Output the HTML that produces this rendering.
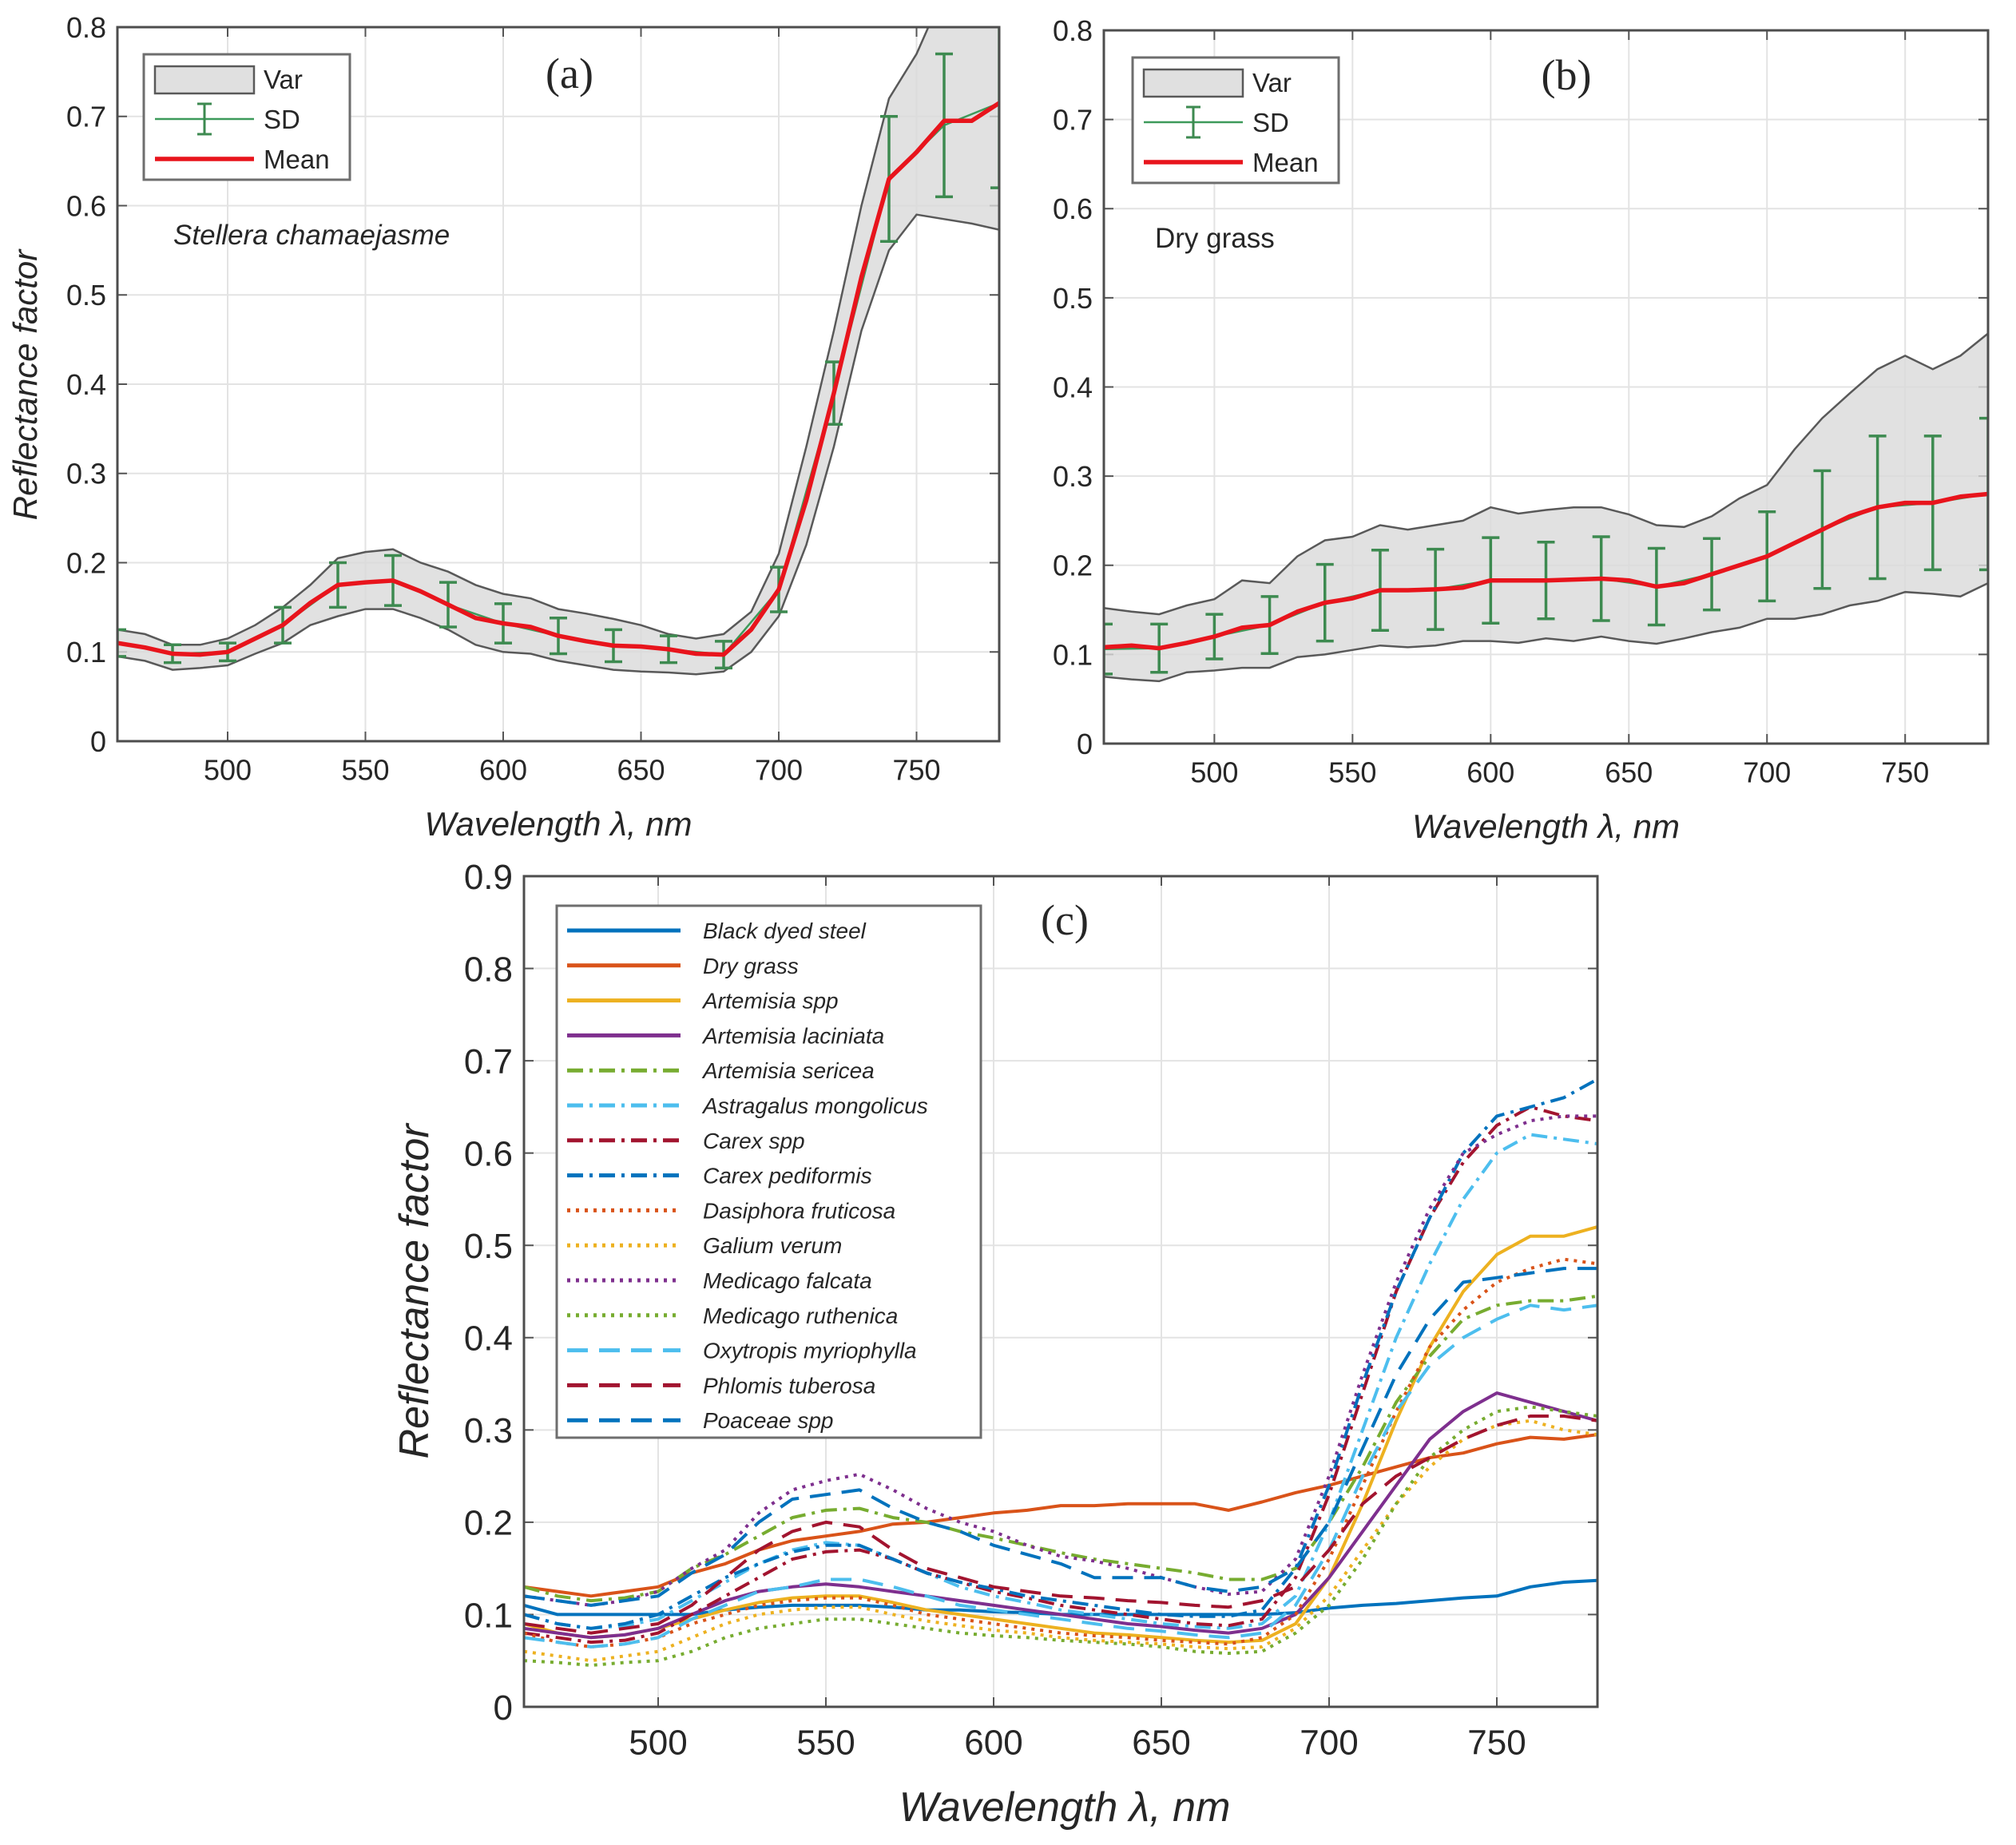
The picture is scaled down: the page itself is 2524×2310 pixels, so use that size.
<!DOCTYPE html>
<html><head><meta charset="utf-8">
<style>
html,body{margin:0;padding:0;background:#fff;}
svg{display:block;}
text{font-family:"Liberation Sans",sans-serif;}
text.serif{font-family:"Liberation Serif",serif;}
</style></head>
<body>
<svg id="fig" width="2524" height="2310" viewBox="0 0 2524 2310" xmlns="http://www.w3.org/2000/svg"></svg>
<script>
// ---------- DATA ----------
const wl = [460,470,480,490,500,510,520,530,540,550,560,570,580,590,600,610,620,630,640,650,660,670,680,690,700,710,720,730,740,750,760,770,780];
const sdWl = [460,480,500,520,540,560,580,600,620,640,660,680,700,720,740,760,780];
const xTicks = [500,550,600,650,700,750];
const yTicksAB = [0,0.1,0.2,0.3,0.4,0.5,0.6,0.7,0.8];
const yTickLabelsAB = ["0","0.1","0.2","0.3","0.4","0.5","0.6","0.7","0.8"];
const yTicksC = [0,0.1,0.2,0.3,0.4,0.5,0.6,0.7,0.8,0.9];
const yTickLabelsC = ["0","0.1","0.2","0.3","0.4","0.5","0.6","0.7","0.8","0.9"];

// Panel (a) Stellera chamaejasme
const aMean = [0.11,0.105,0.098,0.097,0.10,0.115,0.13,0.155,0.175,0.178,0.18,0.168,0.153,0.138,0.132,0.128,0.118,0.112,0.107,0.106,0.103,0.098,0.097,0.125,0.17,0.27,0.39,0.52,0.63,0.66,0.695,0.695,0.715];
const aUpper = [0.125,0.12,0.108,0.108,0.115,0.13,0.15,0.175,0.205,0.212,0.215,0.2,0.19,0.175,0.165,0.16,0.148,0.143,0.137,0.13,0.12,0.115,0.12,0.145,0.21,0.33,0.46,0.6,0.72,0.77,0.84,0.82,0.85];
const aLower = [0.095,0.09,0.08,0.082,0.085,0.098,0.11,0.13,0.14,0.148,0.148,0.138,0.125,0.108,0.1,0.098,0.09,0.085,0.08,0.078,0.077,0.075,0.078,0.1,0.14,0.22,0.33,0.46,0.55,0.59,0.585,0.58,0.573];
const aSdMean = [0.11,0.098,0.10,0.13,0.175,0.18,0.153,0.132,0.118,0.107,0.103,0.097,0.17,0.39,0.63,0.69,0.715];
const aSdHalf = [0.015,0.01,0.01,0.02,0.025,0.028,0.025,0.022,0.02,0.018,0.015,0.015,0.025,0.035,0.07,0.08,0.095];

// Panel (b) Dry grass
const bMean = [0.108,0.11,0.107,0.113,0.12,0.13,0.133,0.148,0.158,0.163,0.172,0.172,0.173,0.175,0.183,0.183,0.183,0.184,0.185,0.183,0.176,0.18,0.19,0.2,0.21,0.225,0.24,0.255,0.265,0.27,0.27,0.277,0.28];
const bUpper = [0.152,0.148,0.145,0.155,0.162,0.183,0.18,0.21,0.228,0.232,0.245,0.24,0.245,0.25,0.265,0.258,0.262,0.265,0.265,0.257,0.245,0.243,0.255,0.275,0.29,0.33,0.365,0.393,0.42,0.435,0.42,0.435,0.46];
const bLower = [0.075,0.072,0.07,0.08,0.082,0.085,0.085,0.097,0.1,0.105,0.11,0.108,0.11,0.115,0.115,0.113,0.118,0.115,0.12,0.115,0.112,0.118,0.125,0.13,0.14,0.14,0.145,0.155,0.16,0.17,0.168,0.165,0.18];
const bSdMean = [0.106,0.107,0.12,0.133,0.158,0.172,0.173,0.183,0.183,0.185,0.176,0.19,0.21,0.24,0.265,0.27,0.28];
const bSdHalf = [0.028,0.027,0.025,0.032,0.043,0.045,0.045,0.048,0.043,0.047,0.043,0.04,0.05,0.066,0.08,0.075,0.085];

// Panel (c) species
const cNames = ["Black dyed steel","Dry grass","Artemisia spp","Artemisia laciniata","Artemisia sericea","Astragalus mongolicus","Carex spp","Carex pediformis","Dasiphora fruticosa","Galium verum","Medicago falcata","Medicago ruthenica","Oxytropis myriophylla","Phlomis tuberosa","Poaceae spp"];
const cSteel = [0.11,0.1,0.1,0.1,0.1,0.1,0.105,0.108,0.11,0.11,0.11,0.108,0.105,0.105,0.103,0.102,0.1,0.1,0.1,0.1,0.1,0.1,0.1,0.102,0.107,0.11,0.112,0.115,0.118,0.12,0.13,0.135,0.137];
const cDryGrass = [0.13,0.125,0.12,0.125,0.13,0.145,0.155,0.17,0.18,0.185,0.19,0.198,0.2,0.205,0.21,0.213,0.218,0.218,0.22,0.22,0.22,0.213,0.222,0.232,0.24,0.25,0.26,0.27,0.275,0.285,0.292,0.29,0.295];
const cArtSpp = [0.09,0.08,0.075,0.078,0.085,0.095,0.105,0.113,0.118,0.12,0.12,0.113,0.105,0.1,0.095,0.09,0.085,0.08,0.078,0.075,0.072,0.07,0.072,0.09,0.14,0.22,0.31,0.39,0.45,0.49,0.51,0.51,0.52];
const cArtLac = [0.085,0.08,0.075,0.078,0.085,0.1,0.115,0.125,0.13,0.133,0.13,0.125,0.12,0.115,0.11,0.105,0.1,0.095,0.09,0.087,0.083,0.08,0.085,0.1,0.14,0.19,0.24,0.29,0.32,0.34,0.33,0.32,0.31];
const cArtSer = [0.13,0.12,0.115,0.118,0.125,0.15,0.165,0.185,0.205,0.213,0.215,0.205,0.2,0.19,0.183,0.175,0.167,0.16,0.155,0.15,0.145,0.138,0.138,0.15,0.2,0.26,0.33,0.38,0.42,0.435,0.44,0.44,0.445];
const cAstr = [0.1,0.09,0.085,0.088,0.095,0.115,0.135,0.155,0.17,0.178,0.175,0.16,0.145,0.13,0.12,0.113,0.105,0.1,0.095,0.09,0.087,0.085,0.09,0.12,0.2,0.3,0.4,0.48,0.55,0.6,0.62,0.615,0.61];
const cCarexSpp = [0.08,0.075,0.07,0.072,0.08,0.1,0.12,0.14,0.16,0.168,0.17,0.16,0.145,0.135,0.125,0.118,0.11,0.105,0.1,0.095,0.09,0.088,0.095,0.14,0.23,0.34,0.45,0.53,0.59,0.63,0.65,0.64,0.635];
const cCarexPed = [0.1,0.09,0.085,0.09,0.1,0.12,0.14,0.155,0.168,0.175,0.175,0.16,0.145,0.135,0.128,0.12,0.115,0.11,0.105,0.1,0.098,0.098,0.105,0.15,0.24,0.35,0.45,0.53,0.6,0.64,0.65,0.66,0.68];
const cDasi = [0.08,0.07,0.065,0.068,0.075,0.09,0.1,0.11,0.115,0.118,0.118,0.11,0.1,0.095,0.09,0.085,0.08,0.077,0.075,0.072,0.07,0.068,0.075,0.1,0.16,0.24,0.32,0.39,0.43,0.46,0.475,0.485,0.48];
const cGalium = [0.06,0.055,0.05,0.055,0.06,0.075,0.09,0.1,0.105,0.108,0.108,0.1,0.093,0.088,0.083,0.08,0.075,0.072,0.07,0.068,0.065,0.063,0.065,0.085,0.12,0.17,0.22,0.26,0.29,0.305,0.31,0.3,0.295];
const cMedFal = [0.12,0.115,0.11,0.115,0.125,0.15,0.17,0.21,0.235,0.245,0.252,0.235,0.215,0.2,0.19,0.175,0.163,0.158,0.15,0.14,0.13,0.122,0.125,0.16,0.25,0.36,0.46,0.54,0.6,0.62,0.635,0.64,0.64];
const cMedRut = [0.05,0.048,0.045,0.048,0.05,0.06,0.075,0.085,0.09,0.095,0.095,0.09,0.085,0.08,0.077,0.075,0.072,0.07,0.068,0.065,0.06,0.058,0.06,0.08,0.11,0.16,0.22,0.27,0.3,0.32,0.325,0.32,0.315];
const cOxy = [0.075,0.07,0.065,0.068,0.075,0.095,0.11,0.125,0.13,0.138,0.138,0.13,0.12,0.11,0.105,0.1,0.095,0.09,0.085,0.082,0.078,0.075,0.08,0.11,0.17,0.25,0.32,0.37,0.4,0.42,0.435,0.43,0.435];
const cPhlo = [0.09,0.085,0.08,0.085,0.09,0.11,0.14,0.17,0.19,0.2,0.195,0.17,0.15,0.14,0.13,0.125,0.12,0.118,0.115,0.113,0.11,0.108,0.115,0.13,0.17,0.22,0.25,0.27,0.29,0.305,0.315,0.315,0.31];
const cPoa = [0.12,0.115,0.11,0.115,0.12,0.145,0.165,0.2,0.225,0.23,0.235,0.215,0.2,0.19,0.175,0.165,0.155,0.14,0.14,0.14,0.13,0.125,0.13,0.15,0.2,0.28,0.36,0.42,0.46,0.465,0.47,0.475,0.475];

// ---------- DRAWING ----------
const NS = "http://www.w3.org/2000/svg";
const svg = document.getElementById('fig');
function mk(tag, attrs, parent){
  const e = document.createElementNS(NS, tag);
  for (const k in attrs) e.setAttribute(k, attrs[k]);
  (parent||svg).appendChild(e);
  return e;
}
function makeAxes(L,R,T,B,ymax){
  const sx = v => L + (v-460)/(780-460)*(R-L);
  const sy = v => B - v/ymax*(B-T);
  return {sx, sy, L, R, T, B};
}
function drawFrame(ax, yt, ytl, tickFont, name){
  const g = mk('g', {});
  
  
  xTicks.forEach(v => {
    const l = mk('line', {x1:ax.sx(v), x2:ax.sx(v), y1:ax.T, y2:ax.B, stroke:'#e3e3e3', 'stroke-width':2}, g);
    
    
  });
  yt.forEach(v => {
    const l = mk('line', {x1:ax.L, x2:ax.R, y1:ax.sy(v), y2:ax.sy(v), stroke:'#e3e3e3', 'stroke-width':2}, g);
    
    
  });
  xTicks.forEach(v => {
    const t = mk('text', {x:ax.sx(v), y:ax.B + tickFont*1.35, 'text-anchor':'middle', 'font-size':tickFont, fill:'#262626'}, g);
    t.textContent = v;
    
    
    mk('line', {x1:ax.sx(v), x2:ax.sx(v), y1:ax.B, y2:ax.B-12, stroke:'#555', 'stroke-width':2}, g);
    mk('line', {x1:ax.sx(v), x2:ax.sx(v), y1:ax.T, y2:ax.T+12, stroke:'#555', 'stroke-width':2}, g);
  });
  yt.forEach((v,i) => {
    const t = mk('text', {x:ax.L-14, y:ax.sy(v)+tickFont*0.36, 'text-anchor':'end', 'font-size':tickFont, fill:'#262626'}, g);
    t.textContent = ytl[i];
    
    
    mk('line', {x1:ax.L, x2:ax.L+12, y1:ax.sy(v), y2:ax.sy(v), stroke:'#555', 'stroke-width':2}, g);
    mk('line', {x1:ax.R, x2:ax.R-12, y1:ax.sy(v), y2:ax.sy(v), stroke:'#555', 'stroke-width':2}, g);
  });
  return g;
}
function box(ax, name){
  const r = mk('rect', {x:ax.L, y:ax.T, width:ax.R-ax.L, height:ax.B-ax.T, fill:'none', stroke:'#4d4d4d', 'stroke-width':3});
  
  
}
function linePath(ax, xs, ys){
  return xs.map((x,i) => (i?'L':'M') + ax.sx(x).toFixed(1) + ',' + ax.sy(ys[i]).toFixed(1)).join(' ');
}
function clipFor(ax, id){
  const d = mk('defs', {});
  const c = mk('clipPath', {id:id}, d);
  mk('rect', {x:ax.L, y:ax.T, width:ax.R-ax.L, height:ax.B-ax.T}, c);
}
function label(x,y,txt,size,opts,name){
  const t = mk('text', Object.assign({x:x, y:y, 'font-size':size, fill:'#262626'}, opts||{}));
  t.textContent = txt;
  
  
  return t;
}

function drawMeanPanel(ax, mean, upper, lower, sdMean, sdHalf, id, letter, letterPos, note, noteItalic, legBox){
  clipFor(ax, 'clip'+id);
  drawFrame(ax, yTicksAB, yTickLabelsAB, 36, 'panel-'+id);
  const g = mk('g', {'clip-path':'url(#clip'+id+')'});
  
  
  let d = wl.map((x,i)=>(i?'L':'M')+ax.sx(x).toFixed(1)+','+ax.sy(upper[i]).toFixed(1)).join(' ');
  for (let i=wl.length-1;i>=0;i--) d += ' L'+ax.sx(wl[i]).toFixed(1)+','+ax.sy(lower[i]).toFixed(1);
  d += ' Z';
  const band = mk('path', {d:d, fill:'#d9d9d9', 'fill-opacity':0.8, stroke:'none'}, g);
  
  
  const up = mk('path', {d:linePath(ax, wl, upper), fill:'none', stroke:'#595959', 'stroke-width':2.5}, g);
  
  
  const lo = mk('path', {d:linePath(ax, wl, lower), fill:'none', stroke:'#595959', 'stroke-width':2.5}, g);
  
  
  const sdl = mk('path', {d:linePath(ax, sdWl, sdMean), fill:'none', stroke:'#3d9a5a', 'stroke-width':2.5}, g);
  
  
  sdWl.forEach((x,i)=>{
    const X = ax.sx(x), y1 = ax.sy(sdMean[i]+sdHalf[i]), y2 = ax.sy(sdMean[i]-sdHalf[i]);
    const eb = mk('path', {d:`M${X},${y1} L${X},${y2} M${X-11},${y1} L${X+11},${y1} M${X-11},${y2} L${X+11},${y2}`, fill:'none', stroke:'#3d8a50', 'stroke-width':3.5}, g);
    
    
  });
  const m = mk('path', {d:linePath(ax, wl, mean), fill:'none', stroke:'#e8141c', 'stroke-width':5.5, 'stroke-linejoin':'round'}, g);
  
  
  box(ax, 'panel-'+id);
  const lg = mk('g', {});
  
  
  const [bx,by] = legBox;
  mk('rect', {x:bx, y:by, width:258, height:157, fill:'#fff', stroke:'#6e6e6e', 'stroke-width':3}, lg);
  const r1 = by+31, r2 = by+81, r3 = by+131;
  mk('rect', {x:bx+14, y:r1-16, width:124, height:34, fill:'#e0e0e0', stroke:'#595959', 'stroke-width':2.5}, lg);
  mk('line', {x1:bx+14, x2:bx+138, y1:r2, y2:r2, stroke:'#3d9a5a', 'stroke-width':2.5}, lg);
  mk('path', {d:`M${bx+76},${r2-19} L${bx+76},${r2+19} M${bx+67},${r2-19} L${bx+85},${r2-19} M${bx+67},${r2+19} L${bx+85},${r2+19}`, fill:'none', stroke:'#3d8a50', 'stroke-width':3}, lg);
  mk('line', {x1:bx+14, x2:bx+138, y1:r3, y2:r3, stroke:'#e8141c', 'stroke-width':5.5}, lg);
  [['Var',r1],['SD',r2],['Mean',r3]].forEach(([t,y])=>{
    const e = mk('text', {x:bx+150, y:y+12, 'font-size':33, fill:'#262626'}, lg);
    e.textContent = t;
    
    
  });
  label(letterPos[0], letterPos[1], letter, 54, {'text-anchor':'middle', 'class':'serif'}, 'panel-'+id+'-letter');
  label(note[0], note[1], note[2], 35, noteItalic?{'font-style':'italic'}:{}, 'panel-'+id+'-sample-name');
  label(0,0,'Wavelength \u03BB, nm',42,{'text-anchor':'middle','font-style':'italic',transform:`translate(${(ax.L+ax.R)/2},${ax.B+118})`},'panel-'+id+'-x-axis-title');
}

const axA = makeAxes(147,1251,34,928,0.8);
drawMeanPanel(axA, aMean, aUpper, aLower, aSdMean, aSdHalf, 'a', '(a)', [713,110], [217,306,'Stellera chamaejasme'], true, [180,68]);
label(0,0,'Reflectance factor',42,{'text-anchor':'middle','font-style':'italic',transform:'translate(46,482) rotate(-90)'},'panel-a-y-axis-title');

const axB = makeAxes(1382,2489,38,931,0.8);
drawMeanPanel(axB, bMean, bUpper, bLower, bSdMean, bSdHalf, 'b', '(b)', [1961,112], [1446,310,'Dry grass'], false, [1418,72]);

const axC = makeAxes(656,2000,1097,2137,0.9);
clipFor(axC, 'clipc');
drawFrame(axC, yTicksC, yTickLabelsC, 44, 'panel-c');
const cSeries = [cSteel,cDryGrass,cArtSpp,cArtLac,cArtSer,cAstr,cCarexSpp,cCarexPed,cDasi,cGalium,cMedFal,cMedRut,cOxy,cPhlo,cPoa];
const cColors = ['#0072BD','#D95319','#EDB120','#7E2F8E','#77AC30','#4DBEEE','#A2142F','#0072BD','#D95319','#EDB120','#7E2F8E','#77AC30','#4DBEEE','#A2142F','#0072BD'];
const cDash = ['','','','','20 8 4 8','20 8 4 8','20 8 4 8','20 8 4 8','4 7','4 7','4 7','4 7','26 14','26 14','26 14'];
const gc = mk('g', {'clip-path':'url(#clipc)'});


cSeries.forEach((s,i)=>{
  const p = mk('path', {d:linePath(axC, wl, s), fill:'none', stroke:cColors[i], 'stroke-width':4, 'stroke-dasharray':cDash[i], 'stroke-linejoin':'round'}, gc);
  
  
});
box(axC, 'panel-c');
const lgc = mk('g', {});


mk('rect', {x:697, y:1134, width:531, height:666, fill:'#fff', stroke:'#6e6e6e', 'stroke-width':3}, lgc);
cNames.forEach((n,i)=>{
  const y = 1165 + i*43.8;
  mk('line', {x1:710, x2:852, y1:y, y2:y, stroke:cColors[i], 'stroke-width':5, 'stroke-dasharray':cDash[i]}, lgc);
  const t = mk('text', {x:880, y:y+10, 'font-size':28, 'font-style':'italic', fill:'#262626'}, lgc);
  t.textContent = n;
  
  
});
label(1333,1170,'(c)',54,{'text-anchor':'middle','class':'serif'},'panel-c-letter');
label(0,0,'Reflectance factor',52,{'text-anchor':'middle','font-style':'italic',transform:'translate(536,1617) rotate(-90)'},'panel-c-y-axis-title');
label(1333,2280,'Wavelength \u03BB, nm',52,{'text-anchor':'middle','font-style':'italic'},'panel-c-x-axis-title');
</script>
</body></html>
